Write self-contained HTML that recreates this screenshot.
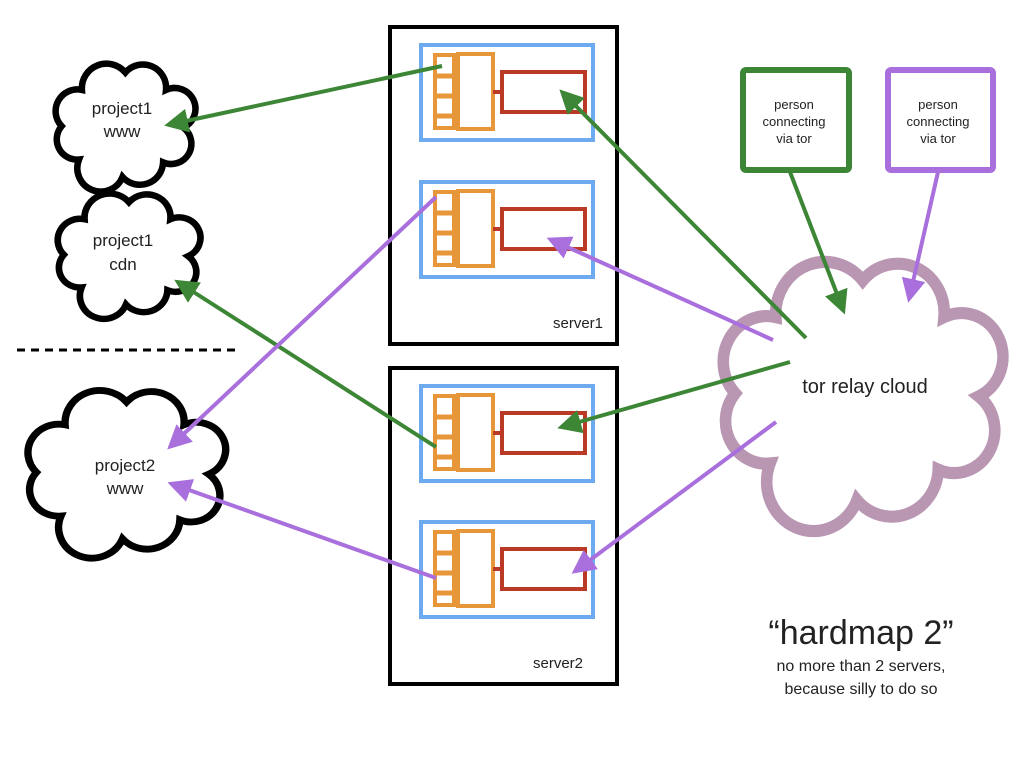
<!DOCTYPE html>
<html><head><style>body{margin:0;background:#fff}svg{display:block}</style></head><body>
<svg width="1024" height="768" viewBox="0 0 1024 768" xmlns="http://www.w3.org/2000/svg" font-family="Liberation Sans, sans-serif">
<defs>
<path id="cl" d="M20,70 A14,14 0 0 1 8,47 A15,15 0 0 1 22,22 A17,17 0 0 1 52,10 A16,16 0 0 1 80,22 A14,14 0 0 1 92,48 A14,14 0 0 1 78,72 A16,16 0 0 1 50,82 A16,16 0 0 1 20,70 Z"/>
<marker id="ag" markerWidth="6" markerHeight="6" refX="4" refY="3" orient="auto" markerUnits="strokeWidth"><path d="M0,0 L6,3 L0,6 Z" fill="#3c8636"/></marker>
<marker id="ap" markerWidth="6" markerHeight="6" refX="4" refY="3" orient="auto" markerUnits="strokeWidth"><path d="M0,0 L6,3 L0,6 Z" fill="#a970dd"/></marker>
</defs>
<!-- clouds -->
<g fill="#fff" stroke="#000">
<use href="#cl" transform="translate(50,58) scale(1.45,1.45)" stroke-width="4.5"/>
<use href="#cl" transform="translate(52,188) scale(1.48,1.42)" stroke-width="4.5"/>
<use href="#cl" transform="translate(20,383) scale(2.05,1.9)" stroke-width="3.6"/>
</g>
<use href="#cl" transform="translate(712,250) scale(2.9,3.05)" fill="#fff" stroke="#b997b3" stroke-width="4"/>
<g font-size="17" fill="#222" text-anchor="middle">
<text x="122" y="114">project1</text><text x="122" y="137">www</text>
<text x="123" y="246">project1</text><text x="123" y="270">cdn</text>
<text x="125" y="471">project2</text><text x="125" y="494">www</text>
<text x="865" y="393" font-size="20">tor relay cloud</text>
<text x="861" y="644" font-size="34">“hardmap 2”</text>
<text x="861" y="671" font-size="16">no more than 2 servers,</text>
<text x="861" y="694" font-size="16">because silly to do so</text>
</g>
<line x1="17" y1="350" x2="240" y2="350" stroke="#000" stroke-width="3" stroke-dasharray="8,6"/>
<!-- servers -->
<rect x="390" y="27" width="227" height="317" fill="none" stroke="#000" stroke-width="4"/>
<rect x="390" y="368" width="227" height="316" fill="none" stroke="#000" stroke-width="4"/>
<text x="553" y="328" font-size="15" fill="#222">server1</text>
<text x="533" y="668" font-size="15" fill="#222">server2</text>
<g id="comp">
<rect x="421" y="45" width="172" height="95" fill="none" stroke="#6eaaf0" stroke-width="4"/>
<rect x="435" y="55" width="19" height="73" fill="none" stroke="#e8963a" stroke-width="4"/>
<rect x="441" y="62" width="8" height="8" fill="#fff"/>
<path d="M435,76H454M435,96H454M435,116H454" stroke="#e8963a" stroke-width="5"/>
<rect x="458" y="54" width="35" height="75" fill="none" stroke="#e8963a" stroke-width="4"/>
<rect x="502" y="72" width="83" height="40" fill="none" stroke="#bb3a26" stroke-width="4"/>
<line x1="493" y1="92" x2="502" y2="92" stroke="#bb3a26" stroke-width="4"/>
</g>
<use href="#comp" y="137"/>
<use href="#comp" y="341"/>
<use href="#comp" y="477"/>
<!-- person boxes -->
<rect x="743" y="70" width="106" height="100" rx="3" fill="#fff" stroke="#3c8636" stroke-width="6"/>
<rect x="888" y="70" width="105" height="100" rx="3" fill="#fff" stroke="#a970dd" stroke-width="6"/>
<g font-size="13" fill="#222" text-anchor="middle">
<text x="794" y="109">person</text><text x="794" y="126">connecting</text><text x="794" y="143">via tor</text>
<text x="938" y="109">person</text><text x="938" y="126">connecting</text><text x="938" y="143">via tor</text>
</g>
<!-- arrows -->
<g stroke-width="4" fill="none">
<line x1="442" y1="66" x2="172" y2="124" stroke="#3c8636" marker-end="url(#ag)"/>
<line x1="806" y1="338" x2="565" y2="95" stroke="#3c8636" marker-end="url(#ag)"/>
<line x1="436" y1="447" x2="181" y2="284" stroke="#3c8636" marker-end="url(#ag)"/>
<line x1="790" y1="362" x2="565" y2="426" stroke="#3c8636" marker-end="url(#ag)"/>
<line x1="790" y1="172" x2="842" y2="307" stroke="#3c8636" marker-end="url(#ag)"/>
<line x1="773" y1="340" x2="554" y2="241" stroke="#a970dd" marker-end="url(#ap)"/>
<line x1="436" y1="197" x2="173" y2="444" stroke="#a970dd" marker-end="url(#ap)"/>
<line x1="776" y1="422" x2="578" y2="569" stroke="#a970dd" marker-end="url(#ap)"/>
<line x1="436" y1="578" x2="175" y2="485" stroke="#a970dd" marker-end="url(#ap)"/>
<line x1="938" y1="172" x2="910" y2="295" stroke="#a970dd" marker-end="url(#ap)"/>
</g>
</svg>
</body></html>
